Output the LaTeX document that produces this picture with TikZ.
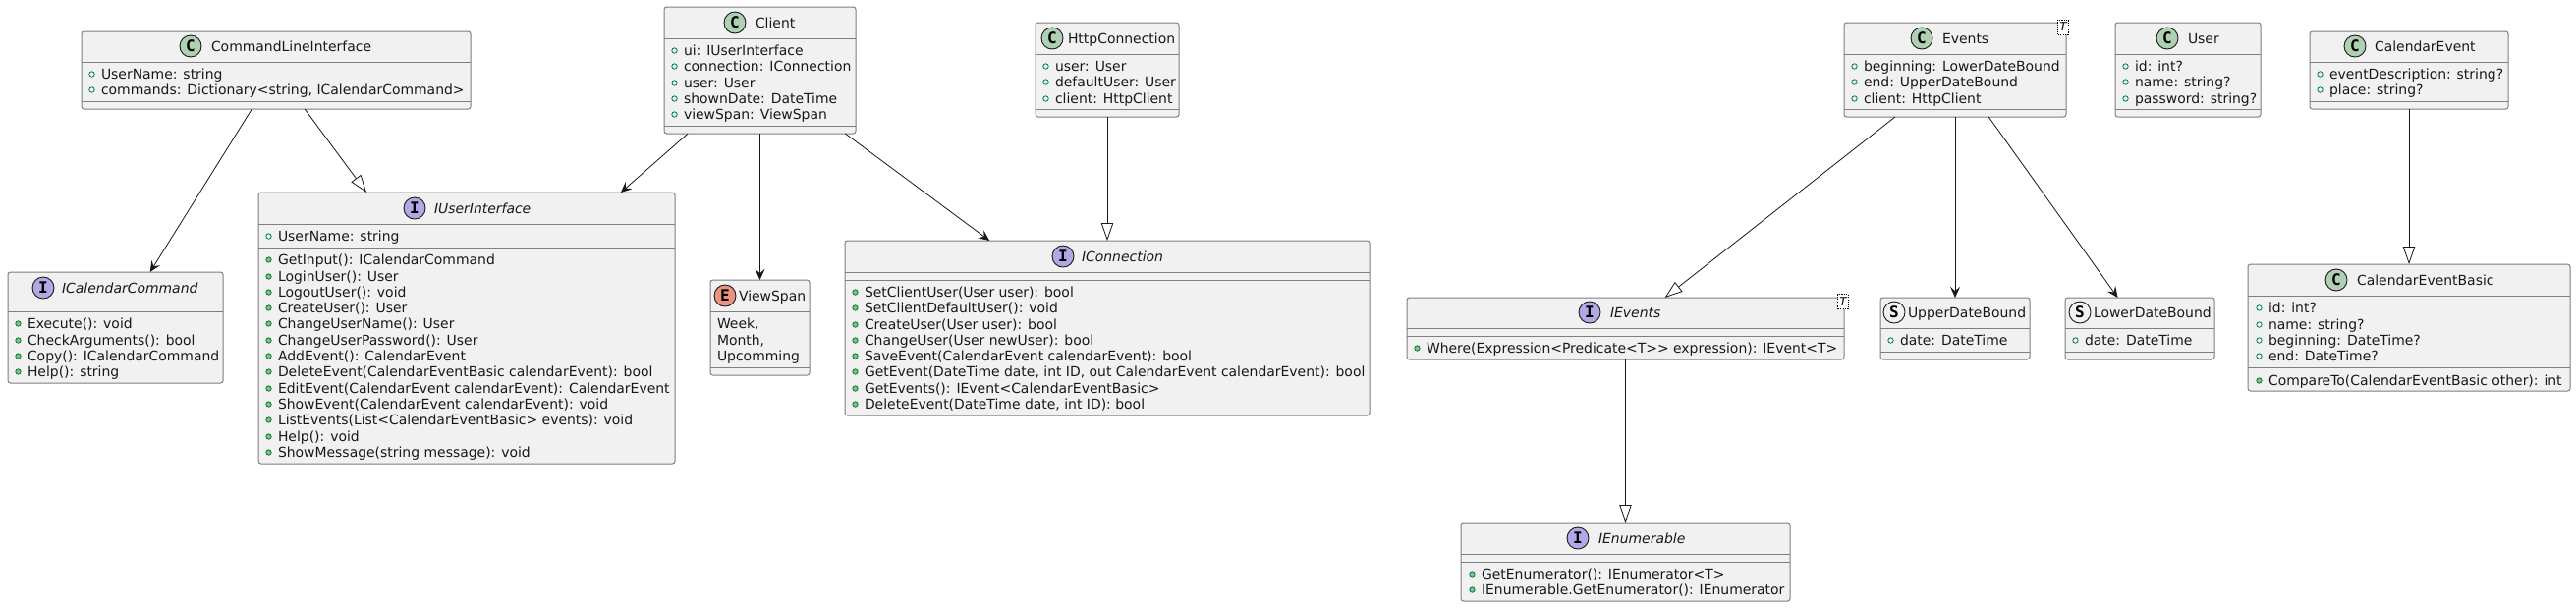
\documentclass[tikz,border=0pt]{standalone}
\usepackage{fontspec}
\setmainfont{DejaVu Sans}
\setmonofont{DejaVu Sans Mono}
\usetikzlibrary{arrows.meta}
\newcounter{autoname}
\definecolor{boxfill}{HTML}{F1F1F1}
\definecolor{boxline}{HTML}{7F7F7F}
\definecolor{ink}{HTML}{181818}
\definecolor{memline}{HTML}{038048}
\definecolor{memfill}{HTML}{84BE84}
\definecolor{cfill}{HTML}{ADD1B2}
\definecolor{ifill}{HTML}{B4A7E5}
\definecolor{efill}{HTML}{EB937F}
\definecolor{sfill}{HTML}{F1F1F1}
\tikzset{
  classbox/.style={draw=boxline,fill=boxfill,line width=0.5pt,rounded corners=1.3pt,inner sep=0pt,outer sep=0pt},
  sepline/.style={draw=boxline,line width=0.5pt},
  lbl/.style={inner sep=0pt,outer sep=0pt,anchor=base west,text=ink,font=\fontsize{6.97}{8}\selectfont},
  tlbl/.style={lbl,font=\fontsize{6.97}{8}\selectfont},
  ilbl/.style={lbl,font=\fontsize{6.97}{8}\selectfont\itshape},
  icon/.style={circle,draw=ink,line width=0.45pt,minimum size=11pt,inner sep=0pt,outer sep=0pt,text=black,font=\fontsize{8}{8}\ttfamily\bfseries},
  tbox/.style={draw=black,dashed,dash pattern=on 0.6pt off 0.6pt,line width=0.35pt,fill=white,minimum width=5.2pt,minimum height=7.6pt,inner sep=0pt,outer sep=0pt,font=\fontsize{6}{6}\itshape},
  assoc/.style={draw=ink,line width=0.4pt,-{Stealth[length=5.6pt,width=5pt,inset=2.2pt,fill=ink]}},
  inherit/.style={draw=ink,line width=0.4pt,-{Triangle[open,length=9pt,width=6.2pt,fill=white]}},
}
% name, left, top, right, bottom, header line y, attribute line y
\newcommand\umlbox[7]{%
  \pgfmathsetmacro\umlw{(#4-#2)*0.5}\pgfmathsetmacro\umlh{(#5-#3)*0.5}%
  \node[classbox,minimum width=\umlw pt,minimum height=\umlh pt] (#1) at ({(#2+#4)/2},{(#3+#5)/2}) {};
  \draw[sepline] (#2,#6) -- (#4,#6);
  \draw[sepline] (#2,#7) -- (#4,#7);
}
% icon x, icon y, letter, colour, title x, title, title style
\newcommand\umlhead[7]{%
  \stepcounter{autoname}%
  \node[icon,fill=#4] (ic\arabic{autoname}) at (#1,#2) {#3};
  \node[#7] (ti\arabic{autoname}) at (#5,#2+5) {#6};
}
\newcommand\attr[3]{%
  \stepcounter{autoname}%
  \draw[memline,line width=0.4pt] (#1+10.5,#2+0.5) circle[radius=2.7];
  \node[lbl] (at\arabic{autoname}) at (#1+20,#2+5) {#3};
}
\newcommand\meth[3]{%
  \stepcounter{autoname}%
  \draw[memline,fill=memfill,line width=0.4pt] (#1+10.5,#2+0.5) circle[radius=2.7];
  \node[lbl] (me\arabic{autoname}) at (#1+20,#2+5) {#3};
}
\begin{document}
\begin{tikzpicture}[x=0.5pt,y=-0.5pt]
\useasboundingbox (0,0) rectangle (2622,618);
\fill[white] (0,0) rectangle (2622,618);

% CommandLineInterface
\umlbox{cli}{83}{32}{479}{111}{63}{103}
\umlhead{194}{47}{C}{cfill}{215}{CommandLineInterface}{tlbl}
\attr{83}{75}{UserName: string}
\attr{83}{91}{commands: Dictionary<string, ICalendarCommand>}

% ICalendarCommand
\umlbox{ical}{8}{277}{227}{390}{309}{317}
\umlhead{44}{293}{I}{ifill}{63}{ICalendarCommand}{ilbl}
\meth{8}{329}{Execute(): void}
\meth{8}{346}{CheckArguments(): bool}
\meth{8}{362}{Copy(): ICalendarCommand}
\meth{8}{378}{Help(): string}

% IUserInterface
\umlbox{iuser}{263}{196}{687}{472}{228}{252}
\umlhead{422}{212}{I}{ifill}{442}{IUserInterface}{ilbl}
\attr{263}{240}{UserName: string}
\meth{263}{264}{GetInput(): ICalendarCommand}
\meth{263}{281}{LoginUser(): User}
\meth{263}{297}{LogoutUser(): void}
\meth{263}{313}{CreateUser(): User}
\meth{263}{329}{ChangeUserName(): User}
\meth{263}{346}{ChangeUserPassword(): User}
\meth{263}{362}{AddEvent(): CalendarEvent}
\meth{263}{378}{DeleteEvent(CalendarEventBasic calendarEvent): bool}
\meth{263}{395}{EditEvent(CalendarEvent calendarEvent): CalendarEvent}
\meth{263}{411}{ShowEvent(CalendarEvent calendarEvent): void}
\meth{263}{427}{ListEvents(List<CalendarEventBasic> events): void}
\meth{263}{444}{Help(): void}
\meth{263}{460}{ShowMessage(string message): void}

% Client
\umlbox{client}{676}{7}{871}{136}{39}{128}
\umlhead{748}{23}{C}{cfill}{769}{Client}{tlbl}
\attr{676}{51}{ui: IUserInterface}
\attr{676}{67}{connection: IConnection}
\attr{676}{84}{user: User}
\attr{676}{100}{shownDate: DateTime}
\attr{676}{116}{viewSpan: ViewSpan}

% ViewSpan
\umlbox{vspan}{723}{285}{824}{382}{317}{374}
\umlhead{738}{301}{E}{efill}{752}{ViewSpan}{tlbl}
\node[lbl] (vs1) at (730,334) {Week,};
\node[lbl] (vs2) at (730,351) {Month,};
\node[lbl] (vs3) at (730,367) {Upcomming};

% HttpConnection
\umlbox{http}{1054}{23}{1200}{119}{55}{111}
\umlhead{1071}{39}{C}{cfill}{1087}{HttpConnection}{tlbl}
\attr{1054}{67}{user: User}
\attr{1054}{83}{defaultUser: User}
\attr{1054}{100}{client: HttpClient}

% IConnection
\umlbox{iconn}{860}{245}{1394}{423}{277}{285}
\umlhead{1082}{261}{I}{ifill}{1101}{IConnection}{ilbl}
\meth{860}{297}{SetClientUser(User user): bool}
\meth{860}{313}{SetClientDefaultUser(): void}
\meth{860}{330}{CreateUser(User user): bool}
\meth{860}{346}{ChangeUser(User newUser): bool}
\meth{860}{362}{SaveEvent(CalendarEvent calendarEvent): bool}
\meth{860}{378}{GetEvent(DateTime date, int ID, out CalendarEvent calendarEvent): bool}
\meth{860}{395}{GetEvents(): IEvent<CalendarEventBasic>}
\meth{860}{411}{DeleteEvent(DateTime date, int ID): bool}

% Events
\umlbox{events}{1877}{23}{2103}{119}{55}{111}
\umlhead{1956}{39}{C}{cfill}{1977}{Events}{tlbl}
\attr{1877}{67}{beginning: LowerDateBound}
\attr{1877}{83}{end: UpperDateBound}
\attr{1877}{100}{client: HttpClient}
\node[tbox] (evT) at (2100,27.5) {T};

% User
\umlbox{user}{2153}{23}{2301}{119}{55}{111}
\umlhead{2206}{39}{C}{cfill}{2227}{User}{tlbl}
\attr{2153}{67}{id: int?}
\attr{2153}{83}{name: string?}
\attr{2153}{100}{password: string?}

% CalendarEvent
\umlbox{cevent}{2351}{32}{2553}{111}{63}{103}
\umlhead{2397}{47}{C}{cfill}{2417}{CalendarEvent}{tlbl}
\attr{2351}{75}{eventDescription: string?}
\attr{2351}{91}{place: string?}

% CalendarEventBasic
\umlbox{cbasic}{2288}{269}{2616}{398}{301}{374}
\umlhead{2378}{285}{C}{cfill}{2399}{CalendarEventBasic}{tlbl}
\attr{2289}{313}{id: int?}
\attr{2289}{330}{name: string?}
\attr{2289}{346}{beginning: DateTime?}
\attr{2289}{362}{end: DateTime?}
\meth{2289}{387}{CompareTo(CalendarEventBasic other): int}

% UpperDateBound
\umlbox{upper}{1914}{303}{2066}{366}{334}{358}
\umlhead{1928}{318}{S}{sfill}{1942}{UpperDateBound}{tlbl}
\attr{1914}{346}{date: DateTime}

% LowerDateBound
\umlbox{lower}{2102}{303}{2254}{366}{334}{358}
\umlhead{2117}{318}{S}{sfill}{2131}{LowerDateBound}{tlbl}
\attr{2102}{346}{date: DateTime}

% IEvents
\umlbox{ievents}{1432}{303}{1877}{366}{334}{342}
\umlhead{1618}{318}{I}{ifill}{1639}{IEvents}{ilbl}
\meth{1432}{354}{Where(Expression<Predicate<T>{}> expression): IEvent<T>}
\node[tbox] (ieT) at (1876,307) {T};

% IEnumerable
\umlbox{ienum}{1487}{532}{1822}{612}{564}{572}
\umlhead{1606}{548}{I}{ifill}{1627}{IEnumerable}{ilbl}
\meth{1488}{584}{GetEnumerator(): IEnumerator<T>}
\meth{1488}{600}{IEnumerable.GetEnumerator(): IEnumerator}

% Connectors
\draw[assoc] (cli) -- (ical);
\draw[inherit] (cli) -- (iuser);
\draw[assoc] (client) -- (iuser);
\draw[assoc] (client) -- (vspan);
\draw[assoc] (client) -- (iconn);
\draw[inherit] (http) -- (iconn);
\draw[inherit] (events) -- (ievents);
\draw[assoc] (events) -- (upper);
\draw[assoc] (events) -- (lower);
\draw[inherit] (ievents) -- (ienum);
\draw[inherit] (cevent) -- (cbasic);
\end{tikzpicture}
\end{document}
